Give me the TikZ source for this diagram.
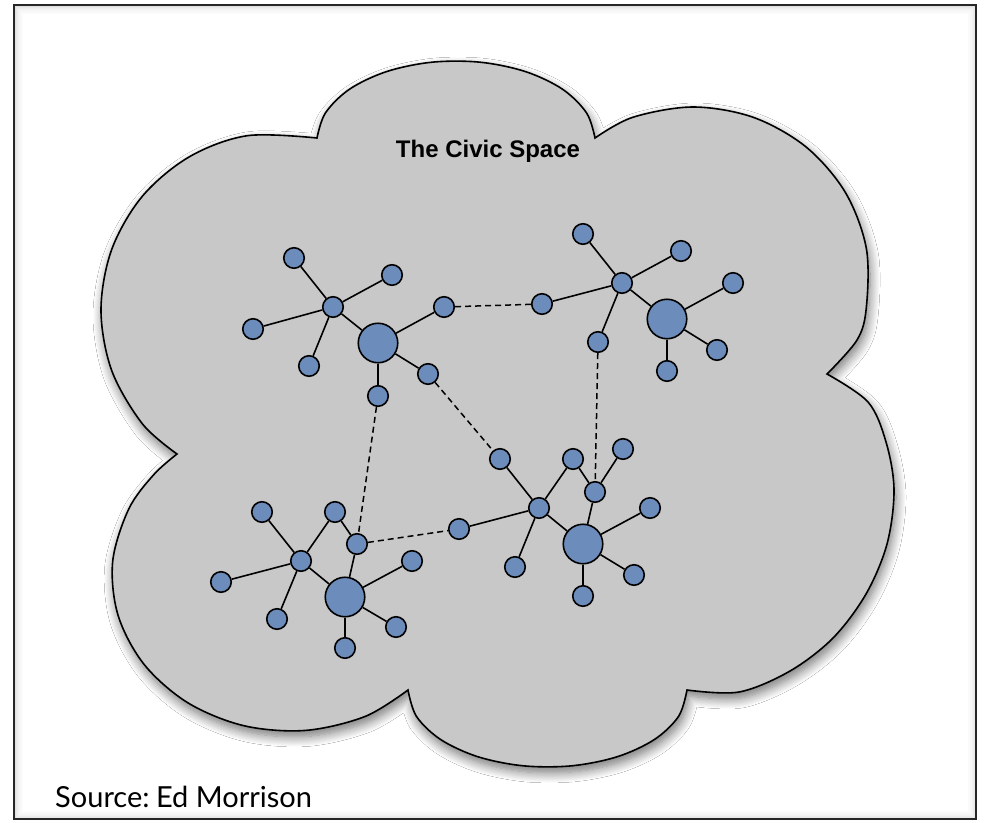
\documentclass[tikz,border=0pt]{standalone}
\usepackage{fontspec}
\setmainfont{Liberation Sans}
\newfontfamily\srcfont{Lato}
\usetikzlibrary{shadows.blur}
\definecolor{nodeblue}{RGB}{108,141,187}
\definecolor{cloudgray}{RGB}{200,200,200}
\begin{document}
\begin{tikzpicture}[x=1pt,y=-1pt,
  leaf/.style={circle,draw=black,fill=nodeblue,line width=1.6pt,minimum size=20.5pt,inner sep=0pt},
  hub/.style={leaf,minimum size=39.5pt},
  link/.style={line width=1.6pt},
  weak/.style={line width=1.5pt,dash pattern=on 6pt off 4pt}]
\useasboundingbox (0,0) rectangle (984,822);
\fill[white] (0,0) rectangle (984,822);
% frame with inner shadow
\foreach \i/\o in {1/0.12,2/0.09,3/0.07,4/0.05,5/0.04,6/0.03,7/0.02,8/0.015}{
  \draw[black,opacity=\o,line width=1pt] (14+\i,5+\i) rectangle (976-\i,819-\i);
}
\draw[line width=1.1pt,black!85] (14,5) rectangle (976,819);
% cloud
\path[blur shadow={shadow xshift=2pt,shadow yshift=-6pt,shadow blur radius=10pt,shadow blur steps=12,shadow opacity=55},
      fill=cloudgray,draw=black,line width=1.6pt]
  plot[smooth,tension=0.55] coordinates {(177,454) (142.4,423.8) (111.7,370.5) (101,310) (111.7,249.5) (142.4,196.2) (189.5,156.7) (247.3,135.7) (317,138)}
  --plot[smooth,tension=0.55] coordinates {(317,138) (325.4,113.0) (349.5,89.2) (386.5,71.6) (431.9,62.2) (480.1,62.2) (525.5,71.6) (562.5,89.2) (586.6,113.0) (595,138)}
  --plot[smooth,tension=0.55] coordinates {(595,138) (632.8,117.3) (693,107) (753.2,117.3) (806.1,147.0) (845.4,192.5) (866.3,248.3) (866.3,307.7) (857,340) (827,374)}
  --plot[smooth,tension=0.55] coordinates {(827,374) (868,402) (886,442) (894,490) (887,544) (866,594) (833,638) (790,671) (739,692) (687,690)}
  --plot[smooth,tension=0.55] coordinates {(687,690) (678.6,716.3) (654.4,739.5) (617.3,756.7) (571.7,765.8) (523.3,765.8) (477.8,756.7) (440.6,739.5) (416.4,716.3) (408,690)}
  --plot[smooth,tension=0.55] coordinates {(408,690) (365.2,716.4) (305.5,730.4) (243.9,725.7) (187.9,702.8) (144.2,664.5) (118.1,615.4) (112.7,561.4) (128.7,509.1) (153.7,474.7) (177,454)}
  -- cycle;
% texts
\node[font=\bfseries\fontsize{24}{28}\selectfont,anchor=base,inner sep=0pt] (title) at (488,157) {The Civic Space};
\node[font=\srcfont\fontsize{29}{34}\selectfont,anchor=base west,inner sep=0pt] (src) at (55,807) {Source:\hspace{-0.12em} Ed Morrison};
% cluster A
\node[leaf] (a0) at (333,307) {};
\node[leaf] (a1) at (294,258) {};
\node[leaf] (a2) at (392,275) {};
\node[leaf] (a3) at (253,329) {};
\node[leaf] (a4) at (309,366) {};
\node[hub]  (A)  at (378,343) {};
\node[leaf] (a5) at (444,307) {};
\node[leaf] (a6) at (428,374) {};
\node[leaf] (a7) at (378,396) {};
% cluster B
\node[leaf] (b0) at (622,283) {};
\node[leaf] (b1) at (583,234) {};
\node[leaf] (b2) at (681,251) {};
\node[leaf] (b3) at (542,304) {};
\node[leaf] (b4) at (598,342) {};
\node[hub]  (B)  at (667,319) {};
\node[leaf] (b5) at (733,283) {};
\node[leaf] (b6) at (717,350) {};
\node[leaf] (b7) at (667,371) {};
% cluster C
\node[leaf] (c0) at (301,561) {};
\node[leaf] (c1) at (262,512) {};
\node[leaf] (c2) at (335,512) {};
\node[leaf] (c3) at (221,582) {};
\node[leaf] (c4) at (277,619) {};
\node[leaf] (cx) at (357,544) {};
\node[hub]  (C)  at (345,597) {};
\node[leaf] (c5) at (412,561) {};
\node[leaf] (c6) at (396,627) {};
\node[leaf] (c7) at (345,648) {};
% cluster D
\node[leaf] (de) at (500,459) {};
\node[leaf] (d0) at (539,508) {};
\node[leaf] (d1) at (573,459) {};
\node[leaf] (dx) at (595,492) {};
\node[leaf] (d2) at (623,449) {};
\node[leaf] (d3) at (459,529) {};
\node[leaf] (d4) at (515,567) {};
\node[hub]  (D)  at (583,544) {};
\node[leaf] (d5) at (650,508) {};
\node[leaf] (d6) at (634,575) {};
\node[leaf] (d7) at (583,596) {};
% solid links
\foreach \p/\q in {a0/a1,a0/a2,a0/a3,a0/a4,a0/A,A/a5,A/a6,A/a7,
  b0/b1,b0/b2,b0/b3,b0/b4,b0/B,B/b5,B/b6,B/b7,
  c0/c1,c0/c2,c0/c3,c0/c4,c0/C,c2/cx,cx/C,C/c5,C/c6,C/c7,
  de/d0,d0/d1,d1/dx,dx/d2,d0/d3,d0/d4,d0/D,dx/D,D/d5,D/d6,D/d7}
  \draw[link] (\p) -- (\q);
% dashed links
\foreach \p/\q in {a5/b3,a7/cx,a6/de,b4/dx,cx/d3}
  \draw[weak] (\p) -- (\q);
\end{tikzpicture}
\end{document}
